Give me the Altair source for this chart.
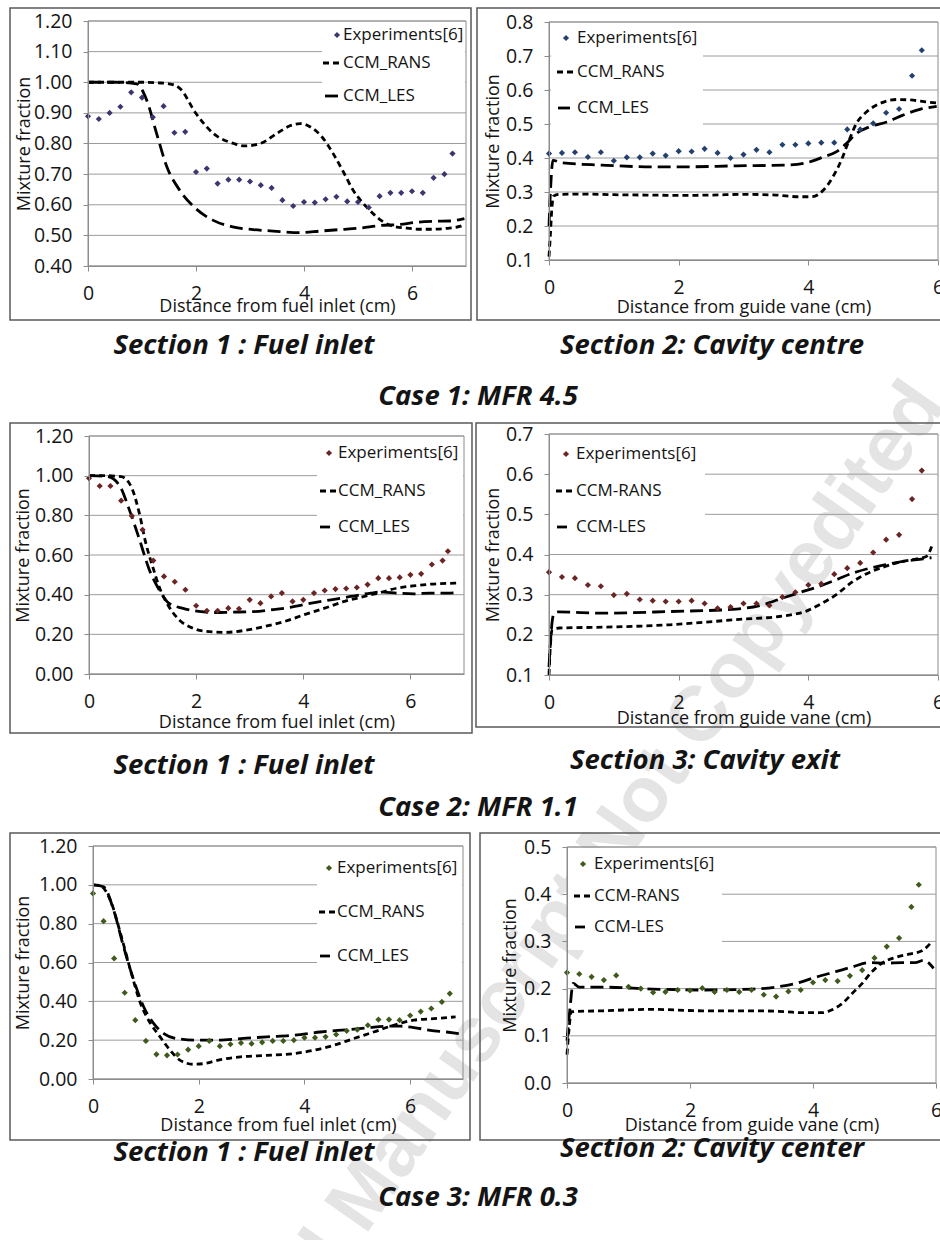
import altair as alt
import pandas as pd

# ---------------- data ----------------
# Case 1 (MFR 4.5), section 1: fuel inlet
c1s1_exp_x = [0.0, 0.2, 0.4, 0.6, 0.8, 1.0, 1.2, 1.4, 1.6, 1.8, 2.0, 2.2, 2.4, 2.6, 2.8, 3.0, 3.2, 3.4,
              3.6, 3.8, 4.0, 4.2, 4.4, 4.6, 4.8, 5.0, 5.2, 5.4, 5.6, 5.8, 6.0, 6.2, 6.4, 6.6, 6.75]
c1s1_exp_y = [0.889, 0.88, 0.90, 0.92, 0.967, 0.95, 0.886, 0.922, 0.835, 0.838, 0.707, 0.718, 0.669,
              0.682, 0.682, 0.676, 0.664, 0.655, 0.615, 0.596, 0.609, 0.607, 0.618, 0.626, 0.611, 0.609,
              0.591, 0.628, 0.639, 0.639, 0.644, 0.639, 0.688, 0.700, 0.767]
c1s1_rans_x = [0.0, 0.5, 1.0, 1.3, 1.5, 1.7, 2.0, 2.32, 2.7, 2.9, 3.19, 3.5, 3.74, 3.93, 4.11, 4.33, 4.54,
               4.73, 4.91, 5.1, 5.28, 5.47, 5.65, 5.9, 6.15, 6.4, 6.64, 6.9, 6.97]
c1s1_rans_y = [1.0, 1.0, 1.0, 0.998, 0.995, 0.98, 0.898, 0.833, 0.80, 0.792, 0.80, 0.833, 0.858, 0.865,
               0.855, 0.822, 0.767, 0.707, 0.647, 0.604, 0.571, 0.544, 0.53, 0.524, 0.52, 0.52, 0.523,
               0.53, 0.536]
c1s1_les_x = [0.0, 0.5, 0.9, 1.09, 1.27, 1.46, 1.7, 2.0, 2.32, 2.7, 3.06, 3.43, 3.93, 4.3, 4.67, 5.04,
              5.4, 5.78, 6.09, 6.4, 6.7, 6.97]
c1s1_les_y = [1.0, 1.0, 0.995, 0.94, 0.833, 0.724, 0.647, 0.587, 0.549, 0.527, 0.519, 0.514, 0.509,
              0.514, 0.519, 0.524, 0.532, 0.536, 0.543, 0.546, 0.547, 0.555]

# Case 1 (MFR 4.5), section 2: cavity centre
c1s2_exp_x = [0.0, 0.2, 0.4, 0.6, 0.8, 1.0, 1.2, 1.4, 1.6, 1.8, 2.0, 2.2, 2.4, 2.6, 2.8, 3.0, 3.2, 3.4,
              3.6, 3.8, 4.0, 4.2, 4.4, 4.6, 4.8, 5.0, 5.2, 5.4, 5.6, 5.75]
c1s2_exp_y = [0.413, 0.415, 0.417, 0.403, 0.417, 0.392, 0.402, 0.402, 0.413, 0.407, 0.42, 0.419, 0.427,
              0.415, 0.40, 0.41, 0.424, 0.417, 0.439, 0.439, 0.443, 0.445, 0.445, 0.484, 0.484, 0.502,
              0.533, 0.544, 0.642, 0.717]
c1s2_rans_x = [0.0, 0.02, 0.04, 0.07, 0.15, 0.5, 1.0, 1.5, 2.0, 2.5, 3.0, 3.5, 3.85, 4.05, 4.23, 4.38,
               4.51, 4.61, 4.74, 4.9, 5.1, 5.36, 5.62, 5.82, 5.98]
c1s2_rans_y = [0.11, 0.17, 0.24, 0.288, 0.293, 0.294, 0.292, 0.291, 0.29, 0.291, 0.293, 0.291, 0.286,
               0.286, 0.305, 0.345, 0.394, 0.443, 0.501, 0.536, 0.56, 0.572, 0.57, 0.565, 0.562]
c1s2_les_x = [0.0, 0.03, 0.06, 0.2, 0.82, 1.6, 2.1, 2.89, 3.66, 3.97, 4.23, 4.43, 4.59, 4.74, 4.95, 5.21,
              5.46, 5.72, 5.98]
c1s2_les_y = [0.2, 0.33, 0.393, 0.386, 0.379, 0.374, 0.374, 0.377, 0.379, 0.386, 0.403, 0.418, 0.443,
              0.472, 0.492, 0.506, 0.526, 0.543, 0.552]

# Case 2 (MFR 1.1), section 1: fuel inlet
c2s1_exp_x = [0.0, 0.2, 0.4, 0.6, 0.8, 1.0, 1.2, 1.4, 1.6, 1.8, 2.0, 2.2, 2.4, 2.6, 2.8, 3.0, 3.2, 3.4,
              3.6, 3.8, 4.0, 4.2, 4.4, 4.6, 4.8, 5.0, 5.2, 5.4, 5.6, 5.8, 6.0, 6.2, 6.4, 6.6, 6.7]
c2s1_exp_y = [0.987, 0.948, 0.948, 0.874, 0.797, 0.727, 0.572, 0.492, 0.465, 0.425, 0.344, 0.319, 0.319,
              0.332, 0.329, 0.374, 0.357, 0.391, 0.408, 0.366, 0.374, 0.408, 0.421, 0.428, 0.431, 0.436,
              0.451, 0.483, 0.483, 0.487, 0.5, 0.505, 0.552, 0.572, 0.619]
c2s1_rans_x = [0.0, 0.3, 0.6, 0.7, 0.81, 0.94, 1.06, 1.19, 1.31, 1.49, 1.68, 1.93, 2.17, 2.54, 2.91, 3.28,
               3.65, 4.02, 4.4, 4.77, 5.14, 5.44, 5.75, 6.12, 6.49, 6.9]
c2s1_rans_y = [1.0, 1.0, 0.995, 0.98, 0.93, 0.81, 0.66, 0.54, 0.44, 0.34, 0.274, 0.232, 0.215, 0.21,
               0.22, 0.24, 0.265, 0.299, 0.332, 0.366, 0.391, 0.411, 0.433, 0.446, 0.455, 0.458]
c2s1_les_x = [0.0, 0.35, 0.57, 0.75, 0.94, 1.12, 1.31, 1.49, 1.74, 2.05, 2.36, 2.67, 3.04, 3.41, 3.78,
              4.15, 4.52, 4.89, 5.26, 5.44, 5.75, 6.06, 6.37, 6.68, 6.9]
c2s1_les_y = [1.0, 0.995, 0.95, 0.83, 0.68, 0.53, 0.425, 0.357, 0.332, 0.316, 0.31, 0.312, 0.314, 0.324,
              0.337, 0.357, 0.374, 0.391, 0.408, 0.413, 0.408, 0.404, 0.408, 0.408, 0.411]

# Case 2 (MFR 1.1), section 3: cavity exit
c2s3_exp_x = [0.0, 0.2, 0.4, 0.6, 0.8, 1.0, 1.2, 1.4, 1.6, 1.8, 2.0, 2.2, 2.4, 2.6, 2.8, 3.0, 3.2, 3.4,
              3.6, 3.8, 4.0, 4.2, 4.4, 4.6, 4.8, 5.0, 5.2, 5.4, 5.6, 5.75]
c2s3_exp_y = [0.356, 0.344, 0.341, 0.324, 0.321, 0.299, 0.302, 0.288, 0.285, 0.283, 0.283, 0.285, 0.278,
              0.266, 0.269, 0.278, 0.278, 0.273, 0.294, 0.306, 0.324, 0.327, 0.351, 0.366, 0.379, 0.405,
              0.437, 0.449, 0.538, 0.609]
c2s3_rans_x = [0.0, 0.02, 0.05, 0.16, 0.83, 1.86, 2.89, 3.66, 3.97, 4.17, 4.43, 4.69, 4.95, 5.2, 5.46,
               5.67, 5.82, 5.92]
c2s3_rans_y = [0.1, 0.17, 0.213, 0.217, 0.219, 0.225, 0.238, 0.248, 0.259, 0.275, 0.30, 0.333, 0.356,
               0.371, 0.383, 0.389, 0.395, 0.428]
c2s3_les_x = [0.0, 0.03, 0.07, 0.14, 0.83, 1.86, 2.89, 3.3, 3.61, 3.92, 4.17, 4.43, 4.69, 4.95, 5.2,
              5.46, 5.77, 5.9]
c2s3_les_y = [0.12, 0.2, 0.25, 0.257, 0.254, 0.258, 0.264, 0.275, 0.292, 0.308, 0.321, 0.337, 0.354,
              0.366, 0.375, 0.383, 0.389, 0.392]

# Case 3 (MFR 0.3), section 1: fuel inlet
c3s1_exp_x = [0.0, 0.2, 0.4, 0.6, 0.8, 1.0, 1.2, 1.4, 1.6, 1.8, 2.0, 2.2, 2.4, 2.6, 2.8, 3.0, 3.2, 3.4,
              3.6, 3.8, 4.0, 4.2, 4.4, 4.6, 4.8, 5.0, 5.2, 5.4, 5.6, 5.8, 6.0, 6.2, 6.4, 6.6, 6.75]
c3s1_exp_y = [0.956, 0.813, 0.621, 0.444, 0.303, 0.196, 0.127, 0.122, 0.126, 0.151, 0.169, 0.196, 0.169,
              0.179, 0.186, 0.182, 0.189, 0.196, 0.196, 0.2, 0.213, 0.213, 0.217, 0.229, 0.248, 0.254,
              0.277, 0.306, 0.306, 0.303, 0.327, 0.347, 0.363, 0.397, 0.44]
c3s1_rans_x = [0.0, 0.14, 0.33, 0.52, 0.71, 0.9, 1.09, 1.27, 1.46, 1.65, 1.9, 2.09, 2.41, 2.79, 3.29,
               3.8, 4.18, 4.56, 4.93, 5.31, 5.69, 6.07, 6.45, 6.86]
c3s1_rans_y = [1.0, 0.995, 0.92, 0.75, 0.56, 0.389, 0.285, 0.217, 0.148, 0.096, 0.076, 0.079, 0.10,
               0.114, 0.122, 0.131, 0.148, 0.174, 0.208, 0.242, 0.277, 0.303, 0.311, 0.32]
c3s1_les_x = [0.0, 0.2, 0.39, 0.58, 0.77, 0.96, 1.15, 1.34, 1.59, 1.97, 2.35, 2.79, 3.29, 3.8, 4.3, 4.81,
              5.19, 5.57, 5.82, 6.07, 6.38, 6.69, 6.92]
c3s1_les_y = [1.0, 0.99, 0.87, 0.68, 0.51, 0.371, 0.285, 0.234, 0.208, 0.20, 0.20, 0.208, 0.217, 0.225,
              0.242, 0.254, 0.263, 0.272, 0.272, 0.265, 0.251, 0.242, 0.234]

# Case 3 (MFR 0.3), section 2: cavity center
c3s2_exp_x = [0.0, 0.2, 0.4, 0.6, 0.8, 1.0, 1.2, 1.4, 1.6, 1.8, 2.0, 2.2, 2.4, 2.6, 2.8, 3.0, 3.2, 3.4,
              3.6, 3.8, 4.0, 4.2, 4.4, 4.6, 4.8, 5.0, 5.2, 5.4, 5.6, 5.72]
c3s2_exp_y = [0.234, 0.231, 0.225, 0.218, 0.228, 0.204, 0.2, 0.192, 0.193, 0.197, 0.196, 0.201, 0.193,
              0.197, 0.193, 0.197, 0.187, 0.183, 0.194, 0.197, 0.213, 0.218, 0.216, 0.227, 0.239, 0.265,
              0.289, 0.307, 0.373, 0.42]
c3s2_rans_x = [0.0, 0.03, 0.07, 0.58, 1.39, 2.2, 3.02, 3.56, 3.83, 4.15, 4.31, 4.48, 4.64, 4.8, 4.96,
               5.12, 5.34, 5.56, 5.77, 5.91]
c3s2_rans_y = [0.06, 0.11, 0.151, 0.153, 0.156, 0.153, 0.153, 0.151, 0.149, 0.149, 0.155, 0.169, 0.19,
               0.211, 0.236, 0.254, 0.266, 0.273, 0.28, 0.296]
c3s2_les_x = [0.0, 0.05, 0.1, 0.2, 0.58, 1.39, 2.2, 3.02, 3.39, 3.72, 4.04, 4.37, 4.64, 4.91, 5.18, 5.45,
              5.66, 5.8, 5.96]
c3s2_les_y = [0.09, 0.16, 0.211, 0.203, 0.203, 0.199, 0.197, 0.199, 0.203, 0.211, 0.224, 0.236, 0.246,
              0.255, 0.254, 0.255, 0.255, 0.26, 0.243]

# axis ticks
x_ticks = [0, 2, 4, 6]
yticks_c1s1 = [0.4, 0.5, 0.6, 0.7, 0.8, 0.9, 1.0, 1.1, 1.2]
yticks_c1s2 = [0.1, 0.2, 0.3, 0.4, 0.5, 0.6, 0.7, 0.8]
yticks_inlet = [0.0, 0.2, 0.4, 0.6, 0.8, 1.0, 1.2]
yticks_c2s3 = [0.1, 0.2, 0.3, 0.4, 0.5, 0.6, 0.7]
yticks_c3s2 = [0.0, 0.1, 0.2, 0.3, 0.4, 0.5]

# ---------------- styling ----------------
W, H = 940, 1240
FONT = "Open Sans"
INK = "#141414"
GRID = "#9c9c9c"
EDGE = "#8c8c8c"
FRAME = "#5a5a5a"
RANS_DASH = [6, 4]
LES_DASH = [13, 6]
LINE_W = 2.8
DOT = 38
TICK_FS = 19.5
TITLE_FS = 18
LEG_FS = 17
CAP_FS = 27.5

ONE = pd.DataFrame({"k": [0]})


def xy(xs, ys):
    return pd.DataFrame({"x": xs, "y": ys})


def vtext(label, x, y, size, **kw):
    style = dict(font=FONT, fontSize=size, color=INK)
    style.update(kw)
    return alt.Chart(ONE).mark_text(text=label, **style).encode(x=alt.value(x), y=alt.value(y))


def box(x0, x1, y0, y1, **kw):
    return alt.Chart(ONE).mark_rect(**kw).encode(
        x=alt.value(x0), x2=alt.value(x1), y=alt.value(y0), y2=alt.value(y1))


def panel(c):
    x0, x1, y0, y1 = c["area"]
    xs = alt.Scale(domain=[0, c["xmax"]], range=[x0, x1], nice=False, zero=False)
    ys = alt.Scale(domain=c["ydom"], range=[y1, y0], nice=False, zero=False)
    x_axis = alt.Axis(orient="bottom", offset=y1 - H, values=x_ticks, format="d", grid=False,
                      zindex=1, labelFlush=False, labelOverlap=False,
                      labelFont=FONT, labelFontSize=TICK_FS, labelColor=INK, labelPadding=13,
                      tickSize=5, tickColor=EDGE, domainColor=EDGE,
                      title=c["xtitle"], titleFont=FONT, titleFontSize=TITLE_FS,
                      titleFontWeight="normal", titleColor=INK, titleY=c["xty"],
                      titleBaseline="middle")
    y_axis = alt.Axis(orient="left", offset=-x0, values=c["yticks"], format=c["yfmt"], grid=False,
                      zindex=1, labelFlush=False, labelOverlap=False,
                      labelFont=FONT, labelFontSize=TICK_FS, labelColor=INK, labelPadding=11,
                      tickSize=5, tickColor=EDGE, domainColor=EDGE,
                      title="Mixture fraction", titleFont=FONT, titleFontSize=TITLE_FS,
                      titleFontWeight="normal", titleColor=INK, titleX=c["ytx"], titleAngle=270,
                      titleAlign="center", titleBaseline="middle")

    layers = []
    fx0, fx1, fy0, fy1 = c["frame"]
    layers.append(box(fx0, fx1, fy0, fy1, fillOpacity=0, stroke=FRAME, strokeWidth=1.5))
    layers.append(box(x0, x1, y0, y1, fillOpacity=0, stroke=EDGE, strokeWidth=1))

    # horizontal gridlines at the y ticks
    layers.append(alt.Chart(pd.DataFrame({"y": c["yticks"]})).mark_rule(
        color=GRID, strokeWidth=1).encode(
        y=alt.Y("y:Q", scale=ys, axis=None), x=alt.value(x0), x2=alt.value(x1)))

    # legend backdrop hides the gridlines behind it
    L = c["legend"]
    layers.append(box(*L["box"], color="white"))

    layers.append(alt.Chart(xy(c["rans"][0], c["rans"][1])).mark_line(
        interpolate="monotone", strokeDash=RANS_DASH, strokeWidth=LINE_W, color="black").encode(
        x=alt.X("x:Q", scale=xs, axis=None), y=alt.Y("y:Q", scale=ys, axis=None)))
    layers.append(alt.Chart(xy(c["les"][0], c["les"][1])).mark_line(
        interpolate="monotone", strokeDash=LES_DASH, strokeWidth=LINE_W, color="black").encode(
        x=alt.X("x:Q", scale=xs, axis=None), y=alt.Y("y:Q", scale=ys, axis=None)))
    layers.append(alt.Chart(xy(c["exp"][0], c["exp"][1])).mark_point(
        shape="diamond", filled=True, size=DOT, color=c["color"], opacity=1).encode(
        x=alt.X("x:Q", scale=xs, axis=x_axis), y=alt.Y("y:Q", scale=ys, axis=y_axis)))

    # legend entries
    dx, dy = L["dot"]
    layers.append(alt.Chart(ONE).mark_point(shape="diamond", filled=True, size=DOT,
                                            color=c["color"], opacity=1).encode(
        x=alt.value(dx), y=alt.value(dy)))
    for (r0, r1, ry), dash in ((L["rans"], RANS_DASH), (L["les"], LES_DASH)):
        layers.append(alt.Chart(ONE).mark_rule(strokeDash=dash, strokeWidth=LINE_W,
                                               color="black").encode(
            x=alt.value(r0), x2=alt.value(r1), y=alt.value(ry)))
    for label, ty in zip(L["labels"], L["ty"]):
        layers.append(vtext(label, L["tx"], ty, LEG_FS, align="left", baseline="middle"))

    # caption below the panel
    sx, sy = c["section_pos"]
    layers.append(vtext(c["section"], sx, sy, CAP_FS, fontWeight="bold", fontStyle="italic",
                        align="center", baseline="middle"))
    return layers


FUEL = "Distance from fuel inlet (cm)"
VANE = "Distance from guide vane (cm)"
UNDERSCORE = ("Experiments[6]", "CCM_RANS", "CCM_LES")
HYPHEN = ("Experiments[6]", "CCM-RANS", "CCM-LES")

panels = [
    dict(area=(88, 466, 21, 266), xmax=7, ydom=[0.4, 1.2], yticks=yticks_c1s1, yfmt=".2f",
         xtitle=FUEL, xty=40, ytx=-64, color="#3b3670",
         exp=(c1s1_exp_x, c1s1_exp_y), rans=(c1s1_rans_x, c1s1_rans_y),
         les=(c1s1_les_x, c1s1_les_y), frame=(10, 471, 8, 320),
         legend=dict(box=(322, 465, 22, 108), dot=(337, 35), rans=(323, 342, 63),
                     les=(325, 338, 96), tx=343, ty=(35, 63, 96), labels=UNDERSCORE),
         section="Section 1 : Fuel inlet", section_pos=(244, 346)),
    dict(area=(549, 938, 22, 260), xmax=6, ydom=[0.1, 0.8], yticks=yticks_c1s2, yfmt=".1f",
         xtitle=VANE, xty=47, ytx=-56, color="#24406e",
         exp=(c1s2_exp_x, c1s2_exp_y), rans=(c1s2_rans_x, c1s2_rans_y),
         les=(c1s2_les_x, c1s2_les_y), frame=(477, 945, 8, 320),
         legend=dict(box=(551, 703, 23, 129), dot=(566, 38), rans=(557, 576, 72),
                     les=(558, 570, 108), tx=577, ty=(38, 72, 108), labels=UNDERSCORE),
         section="Section 2: Cavity centre", section_pos=(712, 346)),
    dict(area=(89, 464, 436, 674), xmax=7, ydom=[0.0, 1.2], yticks=yticks_inlet, yfmt=".2f",
         xtitle=FUEL, xty=48, ytx=-66, color="#6b2424",
         exp=(c2s1_exp_x, c2s1_exp_y), rans=(c2s1_rans_x, c2s1_rans_y),
         les=(c2s1_les_x, c2s1_les_y), frame=(10, 472, 423, 733),
         legend=dict(box=(317, 463, 437, 540), dot=(329, 453), rans=(320, 338, 491),
                     les=(320, 330, 527), tx=338, ty=(453, 491, 527), labels=UNDERSCORE),
         section="Section 1 : Fuel inlet", section_pos=(244, 766)),
    dict(area=(549, 938, 434, 675), xmax=6, ydom=[0.1, 0.7], yticks=yticks_c2s3, yfmt=".1f",
         xtitle=VANE, xty=43, ytx=-56, color="#6b2424",
         exp=(c2s3_exp_x, c2s3_exp_y), rans=(c2s3_rans_x, c2s3_rans_y),
         les=(c2s3_les_x, c2s3_les_y), frame=(476, 945, 423, 727),
         legend=dict(box=(550, 705, 435, 540), dot=(566, 454), rans=(556, 575, 491),
                     les=(557, 567, 527), tx=576, ty=(454, 491, 527), labels=HYPHEN),
         section="Section 3: Cavity exit", section_pos=(705, 761)),
    dict(area=(93, 463, 846, 1079), xmax=7, ydom=[0.0, 1.2], yticks=yticks_inlet, yfmt=".2f",
         xtitle=FUEL, xty=46, ytx=-70, color="#3f5a1c",
         exp=(c3s1_exp_x, c3s1_exp_y), rans=(c3s1_rans_x, c3s1_rans_y),
         les=(c3s1_les_x, c3s1_les_y), frame=(10, 470, 833, 1140),
         legend=dict(box=(317, 462, 847, 985), dot=(329, 868), rans=(319, 337, 912),
                     les=(320, 330, 956), tx=337, ty=(868, 912, 956), labels=UNDERSCORE),
         section="Section 1 : Fuel inlet", section_pos=(244, 1153)),
    dict(area=(567, 936, 847, 1083), xmax=6, ydom=[0.0, 0.5], yticks=yticks_c3s2, yfmt=".1f",
         xtitle=VANE, xty=42, ytx=-57, color="#3f5a1c",
         exp=(c3s2_exp_x, c3s2_exp_y), rans=(c3s2_rans_x, c3s2_rans_y),
         les=(c3s2_les_x, c3s2_les_y), frame=(480, 945, 833, 1140),
         legend=dict(box=(568, 722, 848, 950), dot=(583, 864), rans=(574, 593, 896),
                     les=(575, 585, 927), tx=594, ty=(864, 896, 927), labels=HYPHEN),
         section="Section 2: Cavity center", section_pos=(712, 1149)),
]

# faint diagonal stamp across the page, drawn first so everything sits on top of it
layers = [vtext("Accepted Manuscript Not Copyedited", 928, 392, 78, font="Liberation Sans",
                fontWeight="bold", color="#e4e4e4", angle=305, align="right",
                baseline="middle")]
for p in panels:
    layers += panel(p)

# case headings between the rows
for label, (cx, cy) in (("Case 1: MFR 4.5", (478, 397)), ("Case 2: MFR 1.1", (478, 808)),
                        ("Case 3: MFR 0.3", (478, 1198))):
    layers.append(vtext(label, cx, cy, CAP_FS, fontWeight="bold", fontStyle="italic",
                        align="center", baseline="middle"))

chart = (
    alt.layer(*layers)
    .resolve_scale(x="independent", y="independent")
    .resolve_axis(x="independent", y="independent")
    .properties(width=W, height=H, padding=0, background="white",
                autosize=alt.AutoSizeParams(type="none"))
    .configure_view(stroke="transparent")
)

chart.save("out.html", embed_options={"renderer": "svg", "actions": False})
